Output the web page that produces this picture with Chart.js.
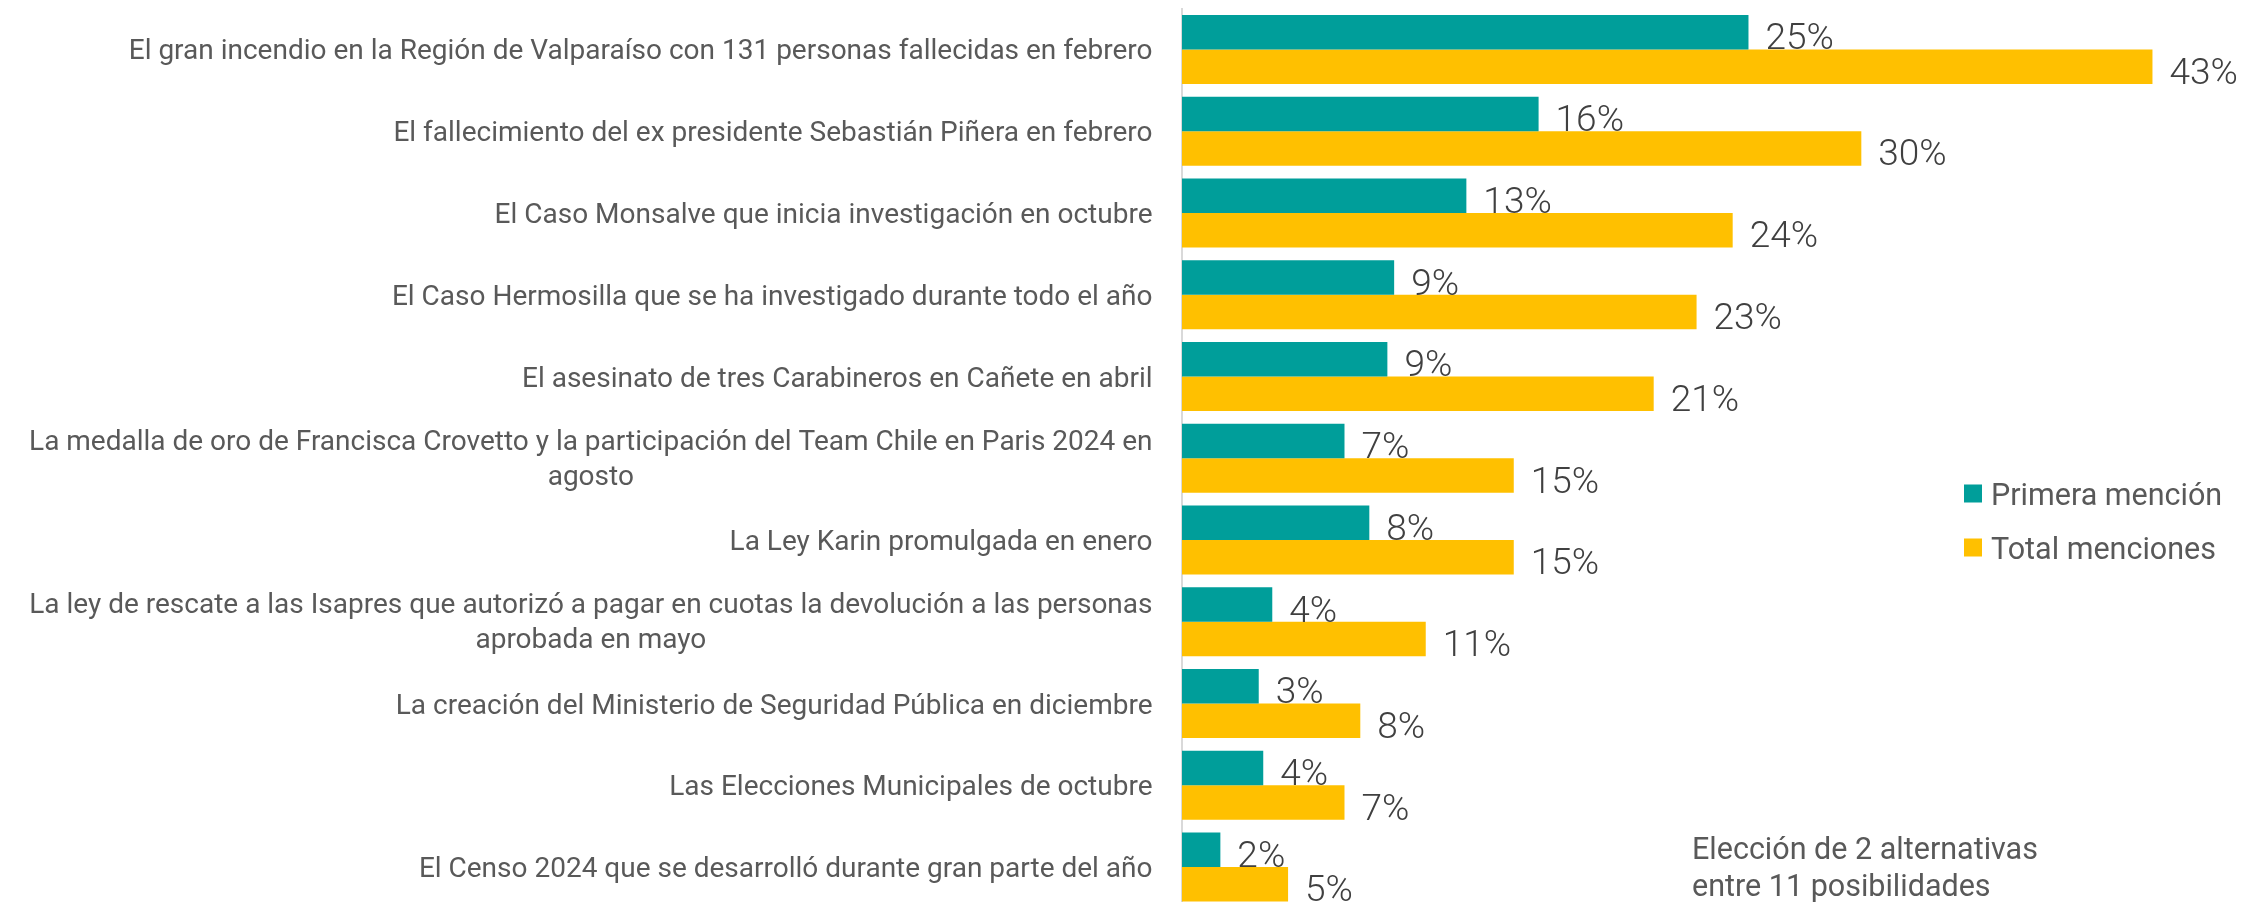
<!DOCTYPE html>
<html><head><meta charset="utf-8">
<script src="https://cdn.jsdelivr.net/npm/chart.js@4.4.0/dist/chart.umd.min.js"></script>
<style>
html,body{margin:0;padding:0;background:#fff;overflow:hidden;}
#wrap{position:relative;width:2245px;height:908px;}
canvas{display:block;}
</style></head><body>
<div id="wrap"><canvas id="c" width="2245" height="908"></canvas></div>
<script>
const categories = [
  ["El gran incendio en la Región de Valparaíso con 131 personas fallecidas en febrero"],
  ["El fallecimiento del ex presidente Sebastián Piñera en febrero"],
  ["El Caso Monsalve que inicia investigación en octubre"],
  ["El Caso Hermosilla que se ha investigado durante todo el año"],
  ["El asesinato de tres Carabineros en Cañete en abril"],
  ["La medalla de oro de Francisca Crovetto y la participación del Team Chile en Paris 2024 en", "agosto"],
  ["La Ley Karin promulgada en enero"],
  ["La ley de rescate a las Isapres que autorizó a pagar en cuotas la devolución a las personas", "aprobada en mayo"],
  ["La creación del Ministerio de Seguridad Pública en diciembre"],
  ["Las Elecciones Municipales de octubre"],
  ["El Censo 2024 que se desarrolló durante gran parte del año"]
];
const seriesNames = ["Primera mención", "Total menciones"];
const primeraMencion = [25.1, 15.8, 12.6, 9.4, 9.1, 7.2, 8.3, 4.0, 3.4, 3.6, 1.7];
const totalMenciones = [43.0, 30.1, 24.4, 22.8, 20.9, 14.7, 14.7, 10.8, 7.9, 7.2, 4.7];
const noteLines = ["Elección de 2 alternativas", "entre 11 posibilidades"];

const TEAL = '#009E9A', GOLD = '#FFC000';
const LABEL_FONT = '28px Roboto, "Noto Sans", sans-serif';
const VALUE_FONT = '300 37px Roboto, sans-serif';
const LEGEND_FONT = '30.5px Roboto, "Noto Sans", sans-serif';

const drawPlugin = {
  id: 'drawExtras',
  afterDraw(chart) {
    const ctx = chart.ctx;
    const area = chart.chartArea;
    const y = chart.scales.y;
    ctx.save();
    // category labels
    ctx.font = LABEL_FONT;
    ctx.fillStyle = '#595959';
    ctx.textAlign = 'center';
    ctx.textBaseline = 'alphabetic';
    chart.data.labels.forEach((lines, i) => {
      const yc = y.getPixelForValue(i);
      const widest = Math.max(...lines.map(l => ctx.measureText(l).width));
      const cx = area.left - 29.5 - widest / 2;
      const n = lines.length;
      const off = n > 1 ? 9 : 10;
      lines.forEach((l, j) => {
        ctx.fillText(l, cx, yc + off + (j - (n - 1) / 2) * 35);
      });
    });
    // value labels
    ctx.font = VALUE_FONT;
    ctx.fillStyle = '#404040';
    ctx.textAlign = 'left';
    chart.data.datasets.forEach((ds, di) => {
      const meta = chart.getDatasetMeta(di);
      meta.data.forEach((el, i) => {
        ctx.fillText(Math.round(ds.data[i]) + '%', el.x + 17, el.y + 17);
      });
    });
    // legend
    ctx.font = LEGEND_FONT;
    chart.data.datasets.forEach((ds, di) => {
      const base = 505 + di * 54;
      ctx.fillStyle = ds.backgroundColor;
      ctx.fillRect(1964, base - 20.5, 18, 18);
      ctx.fillStyle = '#595959';
      ctx.fillText(ds.label, 1991, base);
    });
    // note
    noteLines.forEach((t, k) => ctx.fillText(t, 1692, 859 + k * 37));
    ctx.restore();
  }
};

new Chart(document.getElementById('c'), {
  type: 'bar',
  data: {
    labels: categories,
    datasets: [
      { label: seriesNames[0], data: primeraMencion, backgroundColor: TEAL },
      { label: seriesNames[1], data: totalMenciones, backgroundColor: GOLD }
    ]
  },
  options: {
    responsive: false,
    animation: false,
    devicePixelRatio: 1,
    indexAxis: 'y',
    layout: { padding: { top: 8.6, bottom: 0, left: 0, right: 0 } },
    datasets: { bar: { categoryPercentage: 0.844, barPercentage: 1 } },
    plugins: { legend: { display: false }, tooltip: { enabled: false } },
    scales: {
      x: { display: false, min: 0, max: 47.1 },
      y: {
        grid: { display: false },
        border: { display: true, color: '#D9D9D9', width: 2 },
        ticks: { display: false },
        afterFit(s) { s.width = 1182; }
      }
    }
  },
  plugins: [drawPlugin]
});
</script>
</body></html>
